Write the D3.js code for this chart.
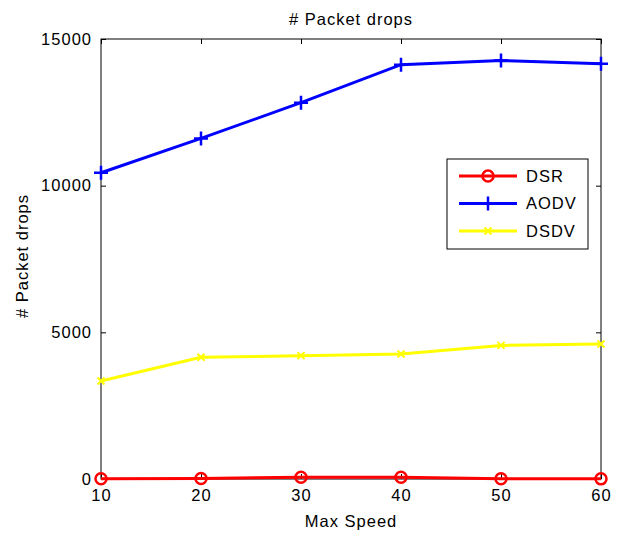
<!DOCTYPE html>
<html>
<head>
<meta charset="utf-8">
<script src="https://cdn.jsdelivr.net/npm/d3@7.9.0/dist/d3.min.js"></script>
<style>
  body { margin: 0; background: #fff; }
  svg text { font-family: "Liberation Sans", Arial, sans-serif; fill: #000; }
</style>
</head>
<body>
<svg id="chart" width="622" height="533"></svg>
<script>
const speeds = [10, 20, 30, 40, 50, 60];
const dsr = [10, 20, 60, 60, 10, 5];
const aodv = [10440, 11610, 12830, 14125, 14270, 14160];
const dsdv = [3340, 4150, 4205, 4260, 4555, 4600];
const yTicks = [0, 5000, 10000, 15000];

const series = [
  { name: 'DSR', values: dsr, color: '#ff0000', marker: 'circle' },
  { name: 'AODV', values: aodv, color: '#0000ff', marker: 'plus' },
  { name: 'DSDV', values: dsdv, color: '#ffff00', marker: 'cross' },
];

const margin = { top: 39, right: 21, bottom: 54, left: 101 };
const width = 622 - margin.left - margin.right;
const height = 533 - margin.top - margin.bottom;

const svg = d3.select('#chart');
const g = svg.append('g').attr('transform', `translate(${margin.left},${margin.top})`);

const x = d3.scaleLinear().domain([10, 60]).range([0, width]);
const y = d3.scaleLinear().domain([0, 15000]).range([height, 0]);

const fontSize = '16.5px';
const spacing = '1px';

// axes with inward ticks
function styleAxis(sel, labels) {
  sel.select('.domain').remove();
  sel.selectAll('line').attr('stroke', '#000').attr('stroke-width', 1);
  sel.selectAll('text').style('font-size', fontSize).style('letter-spacing', spacing);
  if (!labels) sel.selectAll('text').remove();
}

g.append('g')
  .attr('transform', `translate(0,${height})`)
  .call(d3.axisBottom(x).tickValues(speeds).tickSize(-5).tickPadding(10).tickFormat(d3.format('d')))
  .call((s) => styleAxis(s, true));

g.append('g')
  .call(d3.axisTop(x).tickValues(speeds).tickSize(-5))
  .call((s) => styleAxis(s, false));

g.append('g')
  .call(d3.axisLeft(y).tickValues(yTicks).tickSize(-5).tickPadding(9).tickFormat(d3.format('d')))
  .call((s) => styleAxis(s, true));

g.append('g')
  .attr('transform', `translate(${width},0)`)
  .call(d3.axisRight(y).tickValues(yTicks).tickSize(-5))
  .call((s) => styleAxis(s, false));

g.append('rect')
  .attr('width', width)
  .attr('height', height)
  .attr('fill', 'none')
  .attr('stroke', '#000')
  .attr('stroke-width', 1);

function drawMarker(sel, type, color, size) {
  if (type === 'circle') {
    sel.append('circle').attr('r', size).attr('fill', 'none').attr('stroke', color).attr('stroke-width', 2.5);
  } else if (type === 'plus') {
    sel.append('path')
      .attr('d', `M${-size},0H${size}M0,${-size}V${size}`)
      .attr('stroke', color).attr('stroke-width', 2.5).attr('fill', 'none');
  } else {
    sel.append('path')
      .attr('d', `M${-size},${-size}L${size},${size}M${-size},${size}L${size},${-size}`)
      .attr('stroke', color).attr('stroke-width', 2).attr('fill', 'none');
  }
}

const markerSize = { circle: 5.5, plus: 7, cross: 3.5 };

const line = d3.line().x((d, i) => x(speeds[i])).y((d) => y(d));

// draw in reverse so DSR is on top
[...series].reverse().forEach((s) => {
  g.append('path')
    .datum(s.values)
    .attr('d', line)
    .attr('fill', 'none')
    .attr('stroke', s.color)
    .attr('stroke-width', 3);

  s.values.forEach((v, i) => {
    const m = g.append('g').attr('transform', `translate(${x(speeds[i])},${y(v)})`);
    drawMarker(m, s.marker, s.color, markerSize[s.marker]);
  });
});

// title and axis labels
svg.append('text')
  .attr('x', margin.left + width / 2)
  .attr('y', 25)
  .attr('text-anchor', 'middle')
  .style('font-size', fontSize)
  .style('letter-spacing', spacing)
  .text('# Packet drops');

svg.append('text')
  .attr('x', margin.left + width / 2)
  .attr('y', 527)
  .attr('text-anchor', 'middle')
  .style('font-size', fontSize)
  .style('letter-spacing', spacing)
  .text('Max Speed');

svg.append('text')
  .attr('transform', `translate(28,${margin.top + height / 2 - 3}) rotate(-90)`)
  .attr('text-anchor', 'middle')
  .style('font-size', fontSize)
  .style('letter-spacing', spacing)
  .text('# Packet drops');

// legend
const legend = svg.append('g').attr('transform', 'translate(447,159)');
legend.append('rect')
  .attr('width', 141)
  .attr('height', 90)
  .attr('fill', '#fff')
  .attr('stroke', '#000')
  .attr('stroke-width', 1);

series.forEach((s, i) => {
  const row = legend.append('g').attr('transform', `translate(0,${17 + i * 27.5})`);
  row.append('line')
    .attr('x1', 12).attr('x2', 70)
    .attr('stroke', s.color).attr('stroke-width', 3);
  const m = row.append('g').attr('transform', 'translate(41,0)');
  drawMarker(m, s.marker, s.color, markerSize[s.marker]);
  row.append('text')
    .attr('x', 79)
    .attr('dy', '0.35em')
    .style('font-size', fontSize)
    .style('letter-spacing', spacing)
    .text(s.name);
});
</script>
</body>
</html>
